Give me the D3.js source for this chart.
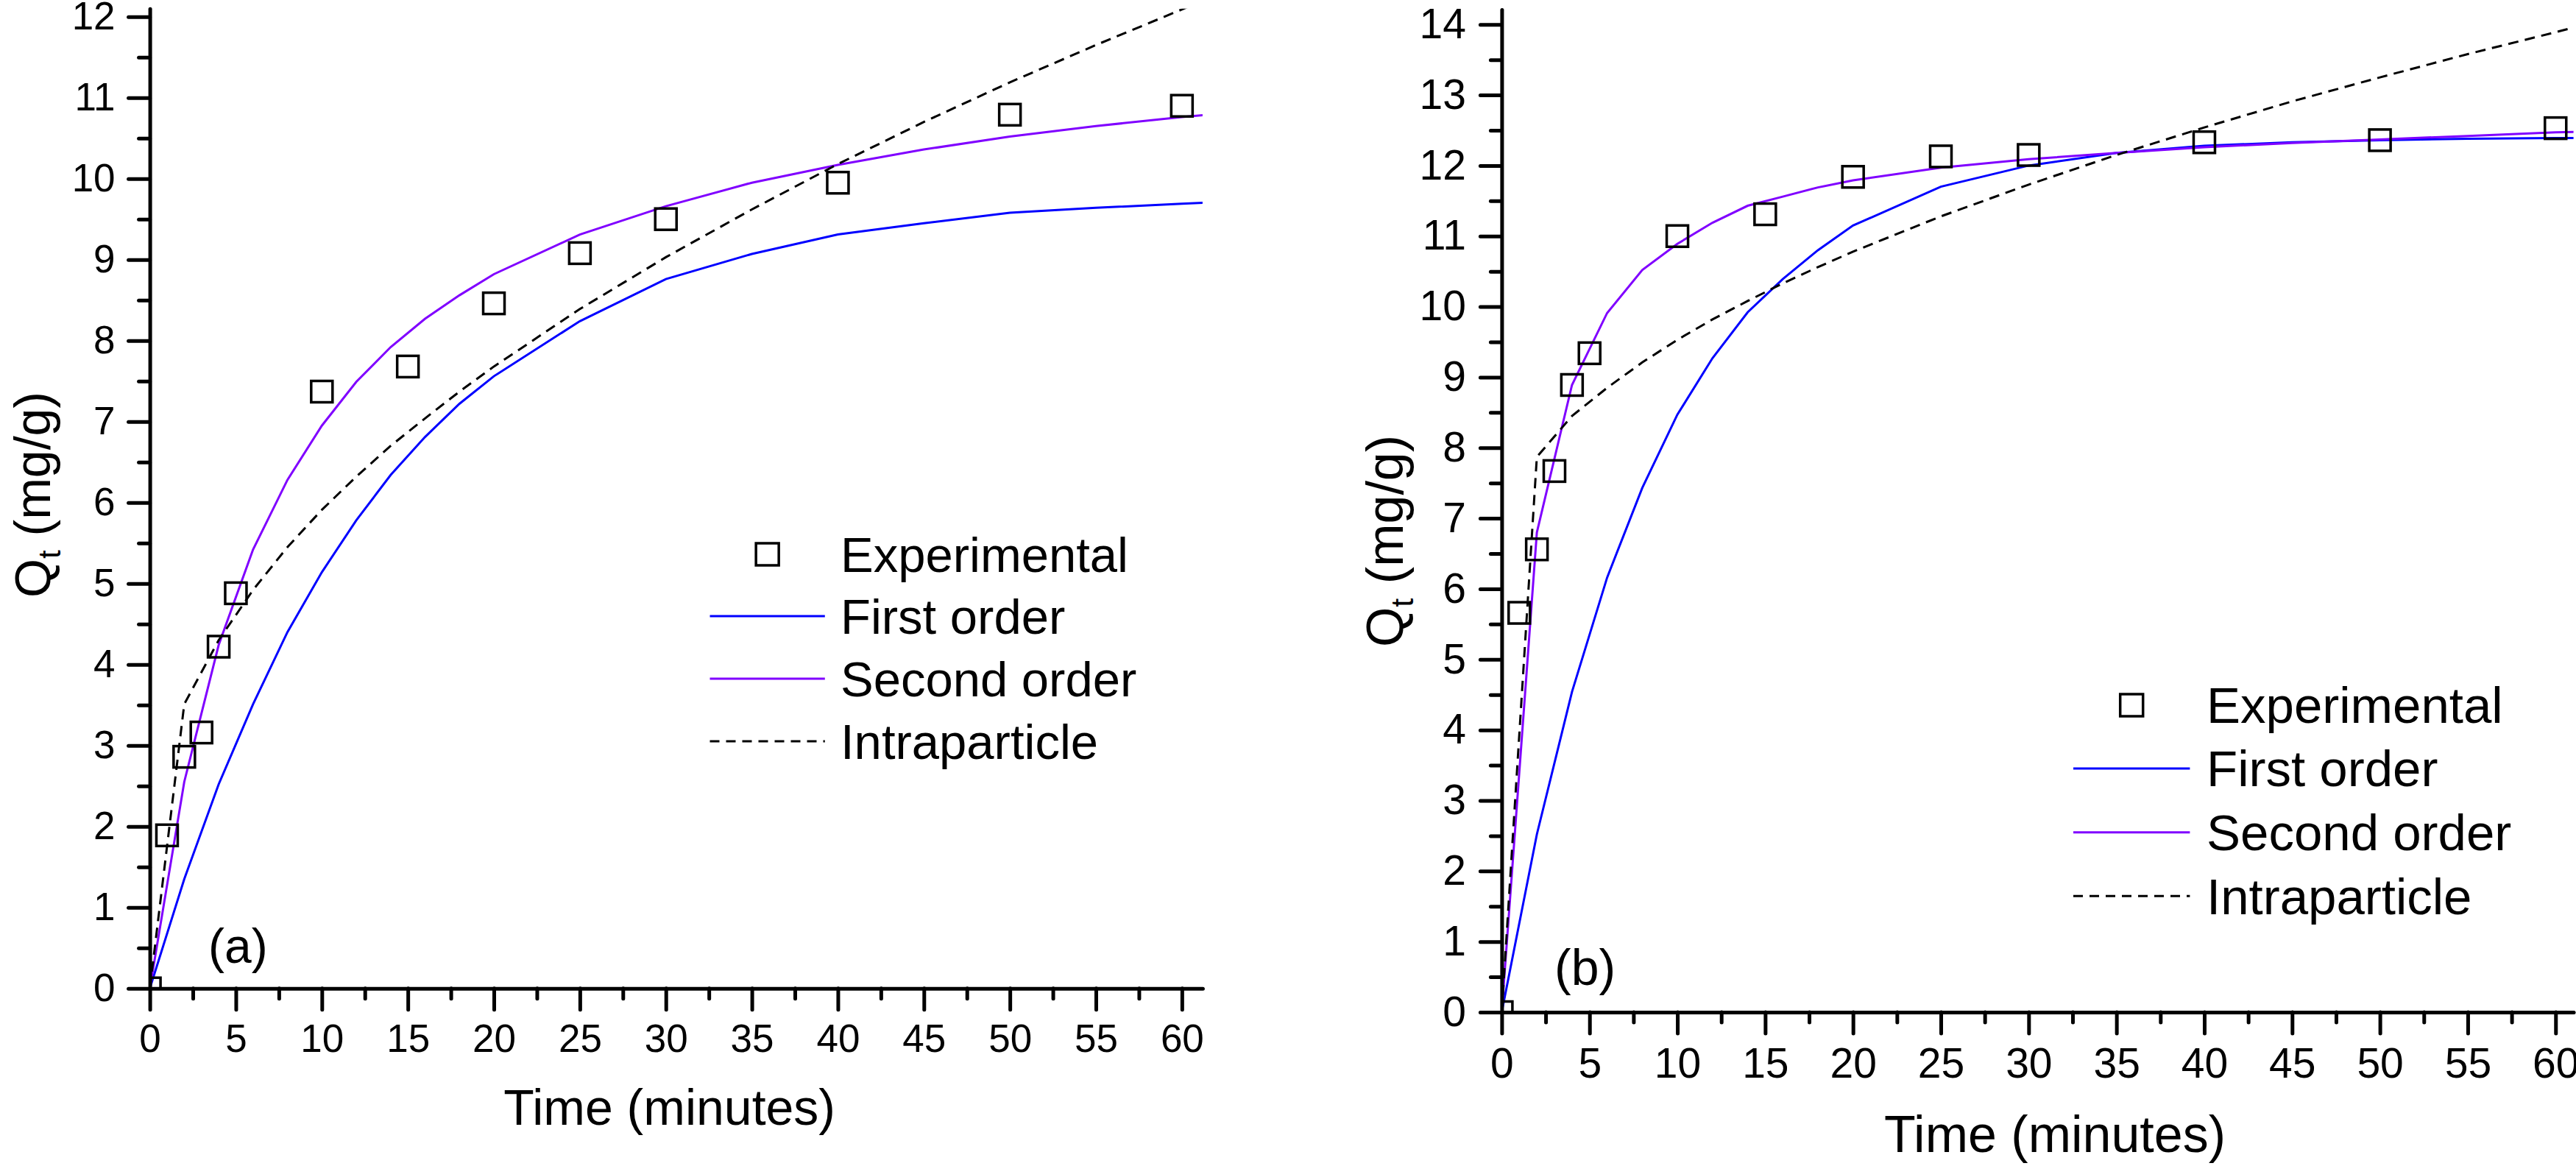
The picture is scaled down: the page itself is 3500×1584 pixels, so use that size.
<!DOCTYPE html>
<html>
<head>
<meta charset="utf-8">
<script src="https://cdn.jsdelivr.net/npm/d3@7"></script>
<style>
  html, body { margin: 0; padding: 0; background: #ffffff; }
  svg { display: block; }
  text { font-family: "Liberation Sans", Arial, Helvetica, sans-serif; fill: #000; }
</style>
</head>
<body>
<svg id="chart" width="3500" height="1584"></svg>
<script>
// ---------------- DATA ----------------
const timeExp = [0, 1, 2, 3, 4, 5, 10, 15, 20, 25, 30, 40, 50, 60];
const expA = [0, 1.89, 2.86, 3.16, 4.22, 4.88, 7.37, 7.68, 8.46, 9.08, 9.50, 9.95, 10.79, 10.90];
const expB = [0, 5.66, 6.56, 7.67, 8.89, 9.34, 11.00, 11.31, 11.84, 12.13, 12.15, 12.33, 12.36, 12.53];

const timeFit = [0, 2, 4, 6, 8, 10, 12, 14, 16, 18, 20, 25, 30, 35, 40, 45, 50, 55, 60, 62];
const firstOrderA  = [0, 1.35, 2.52, 3.51, 4.40, 5.14, 5.78, 6.34, 6.81, 7.22, 7.56, 8.24, 8.76, 9.07, 9.31, 9.45, 9.58, 9.64, 9.69, 9.71];
const secondOrderA = [0, 2.55, 4.24, 5.42, 6.28, 6.95, 7.49, 7.92, 8.27, 8.56, 8.82, 9.31, 9.66, 9.95, 10.17, 10.36, 10.52, 10.65, 10.76, 10.80];
const intraA       = [0, 3.51, 4.30, 4.92, 5.45, 5.91, 6.32, 6.70, 7.04, 7.37, 7.68, 8.39, 9.03, 9.62, 10.18, 10.70, 11.19, 11.65, 12.09, 12.27];

const firstOrderB  = [0, 2.52, 4.54, 6.16, 7.43, 8.47, 9.27, 9.92, 10.39, 10.80, 11.15, 11.70, 12.00, 12.18, 12.28, 12.33, 12.36, 12.38, 12.39, 12.39];
const secondOrderB = [0, 6.80, 8.89, 9.91, 10.52, 10.89, 11.19, 11.43, 11.56, 11.69, 11.79, 11.97, 12.09, 12.18, 12.26, 12.32, 12.37, 12.42, 12.47, 12.48];
const intraB       = [0, 7.87, 8.45, 8.85, 9.21, 9.53, 9.82, 10.08, 10.33, 10.56, 10.78, 11.28, 11.73, 12.15, 12.54, 12.91, 13.25, 13.58, 13.89, 14.02];

const xMajorTicks = [0, 5, 10, 15, 20, 25, 30, 35, 40, 45, 50, 55, 60];
const xMinorTicks = [2.5, 7.5, 12.5, 17.5, 22.5, 27.5, 32.5, 37.5, 42.5, 47.5, 52.5, 57.5];
const yMajorTicksA = [0, 1, 2, 3, 4, 5, 6, 7, 8, 9, 10, 11, 12];
const yMinorTicksA = [0.5, 1.5, 2.5, 3.5, 4.5, 5.5, 6.5, 7.5, 8.5, 9.5, 10.5, 11.5];
const yMajorTicksB = [0, 1, 2, 3, 4, 5, 6, 7, 8, 9, 10, 11, 12, 13, 14];
const yMinorTicksB = [0.5, 1.5, 2.5, 3.5, 4.5, 5.5, 6.5, 7.5, 8.5, 9.5, 10.5, 11.5, 12.5, 13.5];

const legendLabels = ["Experimental", "First order", "Second order", "Intraparticle"];
const panelLabels = ["(a)", "(b)"];
const xTitle = "Time (minutes)";
const seriesColors = { first: "#0000ff", second: "#8000ff", intra: "#000000" };

// ---------------- LAYOUT ----------------
const panels = [
  {
    id: "a", label: panelLabels[0],
    exp: expA, first: firstOrderA, second: secondOrderA, intra: intraA,
    yMajor: yMajorTicksA, yMinor: yMinorTicksA,
    xDomain: [0, 61.2], xRange: [203.6, 1633.9],
    yDomain: [0, 12.1], yRange: [1342.7, 11.7],
    tickFont: 53, xPad: 20, yPad: 18,
    titleFont: 68, xTitleAnchor: "end", xTitlePos: [1135, 1528], yTitlePos: [68, 672],
    panelLabelPos: [283, 1308], panelLabelFont: 66,
    legend: { sym: [964.5, 1120.8], squareY: 753, lineY: [837, 922, 1007], textX: 1142, baseY: [776.7, 860.7, 946, 1030.7], font: 67 }
  },
  {
    id: "b", label: panelLabels[1],
    exp: expB, first: firstOrderB, second: secondOrderB, intra: intraB,
    yMajor: yMajorTicksB, yMinor: yMinorTicksB,
    xDomain: [0, 61.02], xRange: [2040.4, 3496.6],
    yDomain: [0, 14.21], yRange: [1375, 13.1],
    tickFont: 57, xPad: 20, yPad: 19.5,
    titleFont: 70, xTitleAnchor: "middle", xTitlePos: [2792, 1565], yTitlePos: [1906, 735],
    panelLabelPos: [2112, 1338], panelLabelFont: 68,
    legend: { sym: [2817, 2975.4], squareY: 958, lineY: [1044, 1130.7, 1217.3], textX: 2998, baseY: [981.7, 1068.3, 1155, 1241.7], font: 69 }
  }
];

const svg = d3.select("#chart");

panels.forEach((p) => {
  const x = d3.scaleLinear().domain(p.xDomain).range(p.xRange);
  const y = d3.scaleLinear().domain(p.yDomain).range(p.yRange);
  const g = svg.append("g").attr("class", "panel-" + p.id);

  const clipId = "clip-" + p.id;
  svg.append("defs").append("clipPath").attr("id", clipId)
    .append("rect")
    .attr("x", p.xRange[0]).attr("y", p.yRange[1])
    .attr("width", p.xRange[1] - p.xRange[0])
    .attr("height", p.yRange[0] - p.yRange[1]);

  // ----- curves -----
  const line = d3.line().x((d) => x(d[0])).y((d) => y(d[1])).curve(d3.curveLinear);
  const plot = g.append("g").attr("clip-path", "url(#" + clipId + ")");
  const fits = [
    { vals: p.first, color: seriesColors.first, dash: null },
    { vals: p.second, color: seriesColors.second, dash: null },
    { vals: p.intra, color: seriesColors.intra, dash: "14,9" }
  ];
  fits.forEach((f) => {
    plot.append("path")
      .datum(timeFit.map((t, i) => [t, f.vals[i]]))
      .attr("d", line)
      .attr("fill", "none")
      .attr("stroke", f.color)
      .attr("stroke-width", 3)
      .attr("stroke-dasharray", f.dash);
  });

  // ----- experimental squares -----
  const sq = 29;
  plot.selectAll("rect.exp")
    .data(timeExp.map((t, i) => [t, p.exp[i]]))
    .join("rect")
    .attr("class", "exp")
    .attr("x", (d) => x(d[0]) - sq / 2)
    .attr("y", (d) => y(d[1]) - sq / 2)
    .attr("width", sq).attr("height", sq)
    .attr("fill", "none")
    .attr("stroke", "#000")
    .attr("stroke-width", 3.5);

  // ----- axes -----
  const styleAxis = (sel, fs) => {
    sel.select(".domain").attr("stroke", "#000").attr("stroke-width", 5).attr("stroke-linecap", "round");
    sel.selectAll(".tick line").attr("stroke", "#000").attr("stroke-width", 5).attr("stroke-linecap", "round");
    sel.selectAll(".tick text")
      .attr("font-size", fs)
      .attr("font-family", "'Liberation Sans', Arial, sans-serif")
      .attr("fill", "#000");
  };

  // x minor
  g.append("g").attr("transform", "translate(0," + p.yRange[0] + ")")
    .call(d3.axisBottom(x).tickValues(xMinorTicks).tickSize(14).tickSizeOuter(0).tickFormat(""))
    .call((s) => { s.select(".domain").remove(); styleAxis(s, p.tickFont); });
  // y minor
  g.append("g").attr("transform", "translate(" + p.xRange[0] + ",0)")
    .call(d3.axisLeft(y).tickValues(p.yMinor).tickSize(15).tickSizeOuter(0).tickFormat(""))
    .call((s) => { s.select(".domain").remove(); styleAxis(s, p.tickFont); });
  // x major
  g.append("g").attr("transform", "translate(0," + p.yRange[0] + ")")
    .call(d3.axisBottom(x).tickValues(xMajorTicks).tickSize(29).tickSizeOuter(0).tickPadding(p.xPad).tickFormat(d3.format("d")))
    .call((s) => styleAxis(s, p.tickFont));
  // y major
  g.append("g").attr("transform", "translate(" + p.xRange[0] + ",0)")
    .call(d3.axisLeft(y).tickValues(p.yMajor).tickSize(29).tickSizeOuter(0).tickPadding(p.yPad).tickFormat(d3.format("d")))
    .call((s) => styleAxis(s, p.tickFont));

  // ----- titles -----
  g.append("text")
    .attr("x", p.xTitlePos[0]).attr("y", p.xTitlePos[1])
    .attr("text-anchor", p.xTitleAnchor)
    .attr("font-size", p.titleFont)
    .text(xTitle);

  const yt = g.append("text")
    .attr("transform", "translate(" + p.yTitlePos[0] + "," + p.yTitlePos[1] + ") rotate(-90)")
    .attr("text-anchor", "middle")
    .attr("font-size", p.titleFont);
  yt.append("tspan").text("Q");
  yt.append("tspan").attr("font-size", p.titleFont * 0.62).attr("dy", p.titleFont * 0.2).text("t");
  yt.append("tspan").attr("dy", -p.titleFont * 0.2).text(" (mg/g)");

  // ----- panel label -----
  g.append("text")
    .attr("x", p.panelLabelPos[0]).attr("y", p.panelLabelPos[1])
    .attr("font-size", p.panelLabelFont)
    .text(p.label);

  // ----- legend -----
  const L = p.legend;
  const lg = g.append("g").attr("class", "legend");
  lg.append("rect")
    .attr("x", (L.sym[0] + L.sym[1]) / 2 - 15.5).attr("y", L.squareY - 15)
    .attr("width", 31).attr("height", 30)
    .attr("fill", "none").attr("stroke", "#000").attr("stroke-width", 3.5);
  const legLines = [
    { color: seriesColors.first, dash: null },
    { color: seriesColors.second, dash: null },
    { color: seriesColors.intra, dash: "13,9" }
  ];
  legLines.forEach((l, i) => {
    lg.append("line")
      .attr("x1", L.sym[0]).attr("x2", L.sym[1])
      .attr("y1", L.lineY[i]).attr("y2", L.lineY[i])
      .attr("stroke", l.color).attr("stroke-width", 3)
      .attr("stroke-dasharray", l.dash);
  });
  legendLabels.forEach((txt, i) => {
    lg.append("text")
      .attr("x", L.textX).attr("y", L.baseY[i])
      .attr("font-size", L.font)
      .text(txt);
  });
});
</script>
</body>
</html>
